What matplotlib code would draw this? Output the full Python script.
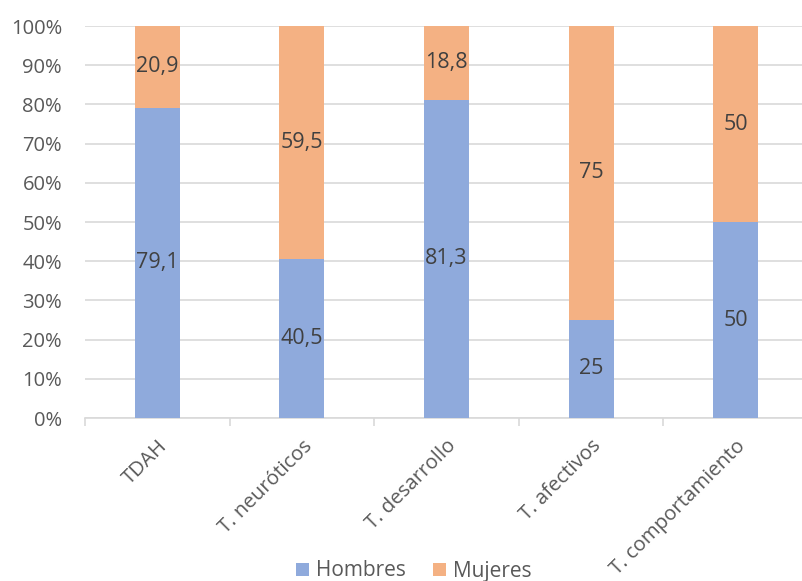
import matplotlib
matplotlib.use("Agg")
import matplotlib.pyplot as plt
import numpy as np

categories = ["TDAH", "T. neuróticos", "T. desarrollo", "T. afectivos", "T. comportamiento"]
hombres = [79.1, 40.5, 81.3, 25, 50]
mujeres = [20.9, 59.5, 18.8, 75, 50]
hombres_labels = ["79,1", "40,5", "81,3", "25", "50"]
mujeres_labels = ["20,9", "59,5", "18,8", "75", "50"]
yticks = [0, 10, 20, 30, 40, 50, 60, 70, 80, 90, 100]

plt.rcParams['font.family'] = ['Open Sans', 'DejaVu Sans']

W, H = 803, 581
fig = plt.figure(figsize=(W/100, H/100), dpi=100)
left, right, top, bottom = 85, 808, 26, 418
ax = fig.add_axes([left/W, 1 - bottom/H, (right-left)/W, (bottom-top)/H])

blue = "#8FAADC"
orange = "#F4B183"
x = np.arange(len(categories))
tot = np.array(hombres) + np.array(mujeres)
h_pct = np.array(hombres) / tot * 100
m_pct = np.array(mujeres) / tot * 100
bw = 0.31
ax.bar(x, h_pct, width=bw, color=blue, label="Hombres", zorder=3)
ax.bar(x, m_pct, width=bw, bottom=h_pct, color=orange, label="Mujeres", zorder=3)

for i in range(len(categories)):
    ax.text(x[i], h_pct[i]/2, hombres_labels[i], ha='center', va='center',
            fontsize=15.5, color='#404040', zorder=4)
    ax.text(x[i], h_pct[i] + m_pct[i]/2, mujeres_labels[i], ha='center', va='center',
            fontsize=15.5, color='#404040', zorder=4)

ax.set_xlim(-0.5, len(categories) - 0.5)
ax.set_ylim(0, 100)
ax.set_yticks(yticks)
ax.set_yticklabels([f"{v}%" for v in yticks], fontsize=14.5, color='#595959')
ax.yaxis.grid(True, color='#D9D9D9', linewidth=1.2, zorder=0)
ax.tick_params(axis='y', length=0, pad=16.5)

ax.set_xticks(x)
ax.set_xticklabels(categories, rotation=45, ha='right', va='top',
                   rotation_mode='anchor', fontsize=14.7, color='#595959')
ax.set_xticks(np.arange(len(categories) + 1) - 0.5, minor=True)
ax.tick_params(axis='x', which='major', length=0, pad=13)
ax.tick_params(axis='x', which='minor', length=6, color='#D9D9D9', width=1.2)

for s in ['top', 'right', 'left']:
    ax.spines[s].set_visible(False)
ax.spines['bottom'].set_color('#D9D9D9')
ax.spines['bottom'].set_linewidth(1.2)

leg = fig.legend(loc='center', bbox_to_anchor=(414/W, 1 - 571/H), ncol=2,
                 frameon=False, fontsize=15, handlelength=0.6, handleheight=0.6,
                 handletextpad=0.35, columnspacing=1.3)
for t in leg.get_texts():
    t.set_color('#595959')

fig.savefig("out.png", dpi=100)
